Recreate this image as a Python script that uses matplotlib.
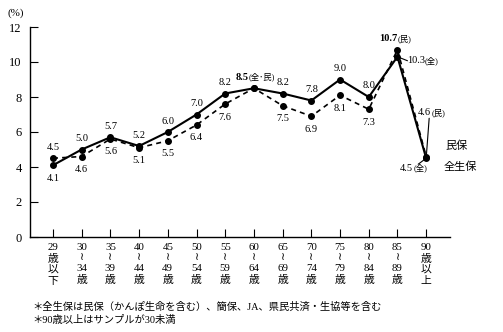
import matplotlib
matplotlib.use('Agg')
import matplotlib.pyplot as plt

plt.rcParams['font.family'] = ['Liberation Serif', 'Noto Sans CJK JP', 'DejaVu Sans']

# age groups
ages = ["29\n歳\n以\n下", "30\n≀\n34\n歳", "35\n≀\n39\n歳", "40\n≀\n44\n歳", "45\n≀\n49\n歳",
        "50\n≀\n54\n歳", "55\n≀\n59\n歳", "60\n≀\n64\n歳", "65\n≀\n69\n歳", "70\n≀\n74\n歳",
        "75\n≀\n79\n歳", "80\n≀\n84\n歳", "85\n≀\n89\n歳", "90\n歳\n以\n上"]
zensei = [4.1, 5.0, 5.7, 5.2, 6.0, 7.0, 8.2, 8.5, 8.2, 7.8, 9.0, 8.0, 10.3, 4.5]   # 全生保 (solid)
minpo = [4.5, 4.6, 5.6, 5.1, 5.5, 6.4, 7.6, 8.5, 7.5, 6.9, 8.1, 7.3, 10.7, 4.6]    # 民保 (dashed)
yticks = [0, 2, 4, 6, 8, 10, 12]

fig = plt.figure(figsize=(5.03, 3.32), dpi=100)
ax = fig.add_axes([30/503, 1-237/332, 420/503, 210/332])
x = list(range(len(ages)))

ax.plot(x, minpo, 'k--', marker='o', ms=4, lw=1.2, dashes=(3, 2.5))
ax.plot(x, zensei, 'k-', marker='o', ms=4, lw=1.5)

ax.set_xlim(-0.8, 13.83)
ax.set_ylim(0, 12)
ax.set_yticks(yticks)
ax.set_xticks(x)
ax.set_xticklabels(ages, fontsize=7.8, linespacing=1.25, va='top')
ax.tick_params(axis='y', direction='in', length=6, labelsize=9, pad=6)
ax.tick_params(axis='x', direction='in', length=6, pad=4)
for s in ['top', 'right']:
    ax.spines[s].set_visible(False)
ax.spines['left'].set_linewidth(1.0)
ax.spines['bottom'].set_linewidth(1.0)
fig.text(8/503, 1-13/332, "(%)", fontsize=8, ha='left', va='center')

px = 72/100.

def lab(i, v, dy, txt=None, dx=0, ha='center', fs=7.5, **kw):
    ax.annotate(txt if txt else "%.1f" % v, (i, v), xytext=(dx*px, dy*px), textcoords='offset points',
                ha=ha, va='center', fontsize=fs, **kw)

for i in range(12):
    if i == 7:
        continue
    hi = max(zensei[i], minpo[i])
    lo = min(zensei[i], minpo[i])
    lab(i, hi, 11)
    lab(i, lo, -13)

# special labels
lab(7, zensei[7], 11, "8.5", dx=-5, ha='right', fontweight='bold')
lab(7, zensei[7], 11, "(全･民)", dx=-5, ha='left', fs=6)
lab(12, minpo[12], 11, "10.7", dx=0, ha='right', fontweight='bold')
lab(12, minpo[12], 11, "(民)", dx=0, ha='left', fs=6)
ax.annotate("", (12, zensei[12]), xytext=(10*px, -4*px), textcoords='offset points',
            arrowprops=dict(arrowstyle='-', lw=0.8, color='k', shrinkA=0, shrinkB=0))
lab(12, zensei[12], -4, "10.3", dx=10, ha='left')
lab(12, zensei[12], -4, "(全)", dx=27, ha='left', fs=6)
ax.annotate("", (13, zensei[13]), xytext=(3*px, 40*px), textcoords='offset points',
            arrowprops=dict(arrowstyle='-', lw=0.8, color='k', shrinkA=0, shrinkB=2))
lab(13, minpo[13], 44, "4.6", dx=-8, ha='left')
lab(13, minpo[13], 44, "(民)", dx=5, ha='left', fs=6)
ax.annotate("", (13, zensei[13]), xytext=(-8*px, -6*px), textcoords='offset points',
            arrowprops=dict(arrowstyle='-', lw=0.8, color='k', shrinkA=0, shrinkB=1))
lab(13, zensei[13], -10, "4.5", dx=-13, ha='right')
lab(13, zensei[13], -10, "(全)", dx=-13, ha='left', fs=6)

fig.text(445/503, 1-146/332, "民保", fontsize=8, ha='left', va='center')
fig.text(444/503, 1-167/332, "全生保", fontsize=8, ha='left', va='center')

fig.text(32/503, 1-307/332, "＊全生保は民保（かんぽ生命を含む）、簡保、JA、県民共済・生協等を含む",
         fontsize=7.4, ha='left', va='center')
fig.text(32/503, 1-320/332, "＊90歳以上はサンプルが30未満", fontsize=7.4, ha='left', va='center')

fig.savefig("out.png", dpi=100)
